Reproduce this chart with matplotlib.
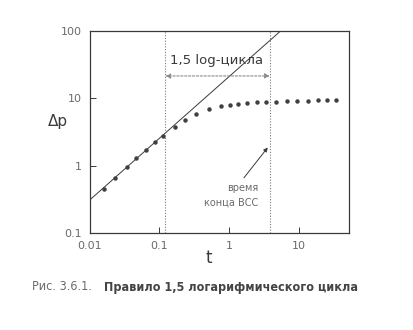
import matplotlib
import matplotlib.pyplot as plt

matplotlib.use("Agg")

# data
t_data = [0.0158, 0.0228, 0.0345, 0.0464, 0.065, 0.0877, 0.114, 0.167, 0.235,
          0.341, 0.524, 0.76, 1.02, 1.36, 1.83, 2.54, 3.45, 4.8, 6.9, 9.5,
          13.7, 18.7, 25.4, 34.5]
dp_data = [0.454, 0.645, 0.97, 1.30, 1.71, 2.23, 2.80, 3.69, 4.81,
           5.92, 6.92, 7.6, 8.1, 8.3, 8.6, 8.8, 8.8, 8.8, 9.0, 9.1,
           9.1, 9.3, 9.3, 9.3]
line_t = [0.01, 5.5]
line_dp = [0.31, 100]
t_start, t_end = 0.122, 3.85
xticks = [0.01, 0.1, 1, 10]
xtick_labels = ["0.01", "0.1", "1", "10"]
yticks = [0.1, 1, 10, 100]
ytick_labels = ["0.1", "1", "10", "100"]

fg = "#3a3a3a"
light = "#6a6a6a"
cap_font = ["DejaVu Sans"]

fig = plt.figure(figsize=(4.14, 3.30), dpi=100)
fig.patch.set_facecolor("white")
ax = fig.add_axes([0.217, 0.294, 0.626, 0.612])

ax.set_xscale("log")
ax.set_yscale("log")
ax.set_xlim(0.01, 53)
ax.set_ylim(0.1, 100)

ax.plot(line_t, line_dp, color=fg, lw=0.7)
ax.plot(t_data, dp_data, ls="none", marker="o", ms=2.2, color="#404040")

for tv in (t_start, t_end):
    ax.axvline(tv, color="#7a7a7a", lw=0.8, ls=(0, (1, 1.5)))

ax.annotate("", xy=(t_start, 21.5), xytext=(t_end, 21.5),
            arrowprops=dict(arrowstyle="<|-|>", color="#8a8a8a", lw=0.8,
                            ls=(0, (2, 1.5)), mutation_scale=7,
                            shrinkA=0, shrinkB=0))
ax.text(0.67, 36, "1,5 log-цикла", ha="center", va="center",
        fontsize=9.5, color=fg)

ax.annotate("", xy=(3.6, 1.86), xytext=(1.64, 0.66),
            arrowprops=dict(arrowstyle="-|>", color=fg, lw=0.7,
                            mutation_scale=6, shrinkA=0, shrinkB=0))
ax.text(2.65, 0.47, "время", ha="right", va="center", fontsize=7,
        color=light)
ax.text(2.65, 0.28, "конца ВСС", ha="right", va="center", fontsize=7,
        color=light)

ax.set_xticks(xticks)
ax.set_xticklabels(xtick_labels)
ax.set_yticks(yticks)
ax.set_yticklabels(ytick_labels)
ax.minorticks_off()
ax.tick_params(direction="in", length=4, width=0.7, colors=fg,
               labelsize=8, labelcolor=light, pad=6)
for s in ax.spines.values():
    s.set_color(fg)
    s.set_linewidth(0.9)

fig.text(58 / 414, 1 - 122 / 330, "Δp", ha="center", va="center",
         fontsize=11, color=fg)
fig.text(209 / 414, 1 - 258 / 330, "t", ha="center", va="center",
         fontsize=12, color=fg)

fig.text(32 / 414, 1 - 287 / 330, "Рис. 3.6.1.", ha="left", va="center",
         fontsize=9, color=light, family=cap_font, fontstretch="condensed")
fig.text(104 / 414, 1 - 287 / 330, "Правило 1,5 логарифмического цикла",
         ha="left", va="center", fontsize=9, fontweight="bold",
         color="#444444", family=cap_font, fontstretch="condensed")

plt.savefig("out.png", dpi=100)
plt.close()
